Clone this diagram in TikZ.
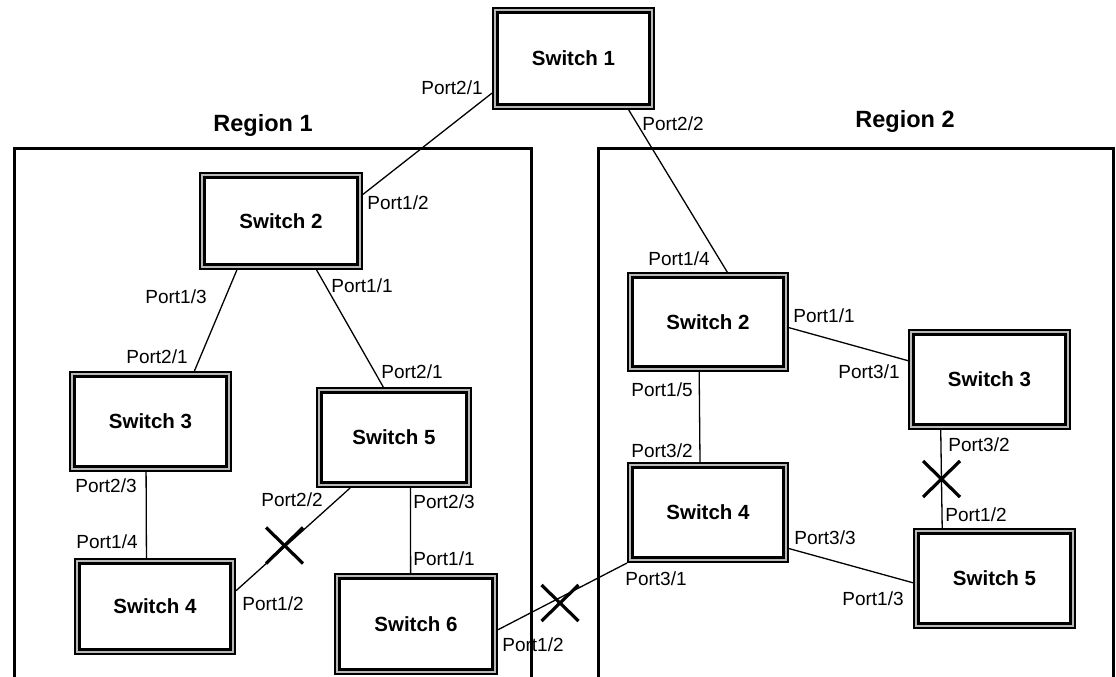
\documentclass[tikz,border=0pt]{standalone}
\usepackage{fontspec}
\setmainfont{Liberation Sans}
\usetikzlibrary{calc}
\tikzset{
  sw/.style={draw=black, line width=2.3pt, double=gray!55, double distance=2.1pt,
    fill=white, inner sep=0pt, outer sep=3.35pt,
    font=\fontsize{20.5}{23}\selectfont\bfseries},
  port/.style={inner sep=0pt, font=\fontsize{19}{21}\selectfont},
  region/.style={inner sep=0pt, font=\fontsize{23.5}{26}\selectfont\bfseries},
  link/.style={line width=1.3pt},
  frame/.style={line width=3pt},
  xmark/.style={line width=3.2pt},
}
\begin{document}
\begin{tikzpicture}[x=1pt,y=-1pt]
\useasboundingbox (0,0) rectangle (1116,677);
\clip (0,0) rectangle (1116,677);
% region frames
\draw[frame] (14,690) -- (14,148) -- (531,148) -- (531,690);
\draw[frame] (598,690) -- (598,148) -- (1113,148) -- (1113,690);
\node[region] (r1) at (263,125) {Region 1};
\node[region] (r2) at (905,121) {Region 2};
% switches
\node[sw, minimum width=156.3pt, minimum height=96.3pt] (s1) at (573.5,58.5) {Switch 1};
\node[sw, minimum width=157.3pt, minimum height=91.3pt] (a2) at (281,221) {Switch 2};
\node[sw, minimum width=156.3pt, minimum height=94.3pt] (a3) at (150.5,421.5) {Switch 3};
\node[sw, minimum width=149.3pt, minimum height=94.3pt] (a5) at (394,437.5) {Switch 5};
\node[sw, minimum width=155.3pt, minimum height=90.3pt] (a4) at (155,606.5) {Switch 4};
\node[sw, minimum width=157.3pt, minimum height=95.3pt] (a6) at (416,624) {Switch 6};
\node[sw, minimum width=155.3pt, minimum height=93.3pt] (b2) at (708,322) {Switch 2};
\node[sw, minimum width=156.3pt, minimum height=94.3pt] (b3) at (989.5,379.5) {Switch 3};
\node[sw, minimum width=155.3pt, minimum height=94.3pt] (b4) at (708,512.5) {Switch 4};
\node[sw, minimum width=156.3pt, minimum height=94.3pt] (b5) at (994.5,578.5) {Switch 5};
% links
\draw[link] (s1.203.5) -- (a2.18.9);
\draw[link] (s1.-43.9) -- (b2.69.2);
\draw[link] (a2.228.7) -- (a3.49.4);
\draw[link] (a2.-54.5) -- (a5.102.3);
\draw[link] (a3.265.4) -- (a4.100.5);
\draw[link] (a5.229.7) -- (a4.11.4);
\draw[link] (a5.-72.4) -- (a6.96.7);
\draw[link] (a6.-4.9) -- (b4.south west);
\draw[link] (b2.-4.9) -- (b3.167.9);
\draw[link] (b2.260.9) -- (b4.99);
\draw[link] (b3.226.2) -- (b5.136.7);
\draw[link] (b4.-24.8) -- (b5.183.9);
% X marks
\coordinate (x1) at (284.5,545.5);
\coordinate (x2) at (560,603);
\coordinate (x3) at (941.5,479);
\foreach \c in {x1,x2,x3}{
  \draw[xmark] ($(\c)+(-18.5,-18)$) -- ($(\c)+(18.5,18)$);
  \draw[xmark] ($(\c)+(-18.5,18)$) -- ($(\c)+(18.5,-18)$);
}
% port labels
\node[port] (l1) at (452,88) {Port2/1};
\node[port] (l2) at (673,124) {Port2/2};
\node[port] (l3) at (398,203) {Port1/2};
\node[port] (l4) at (176,297) {Port1/3};
\node[port] (l5) at (362,286) {Port1/1};
\node[port] (l6) at (157,357) {Port2/1};
\node[port] (l7) at (412,372) {Port2/1};
\node[port] (l8) at (106,486) {Port2/3};
\node[port] (l9) at (107,542) {Port1/4};
\node[port] (l10) at (292,500) {Port2/2};
\node[port] (l11) at (444,502) {Port2/3};
\node[port] (l12) at (444,559) {Port1/1};
\node[port] (l13) at (273,604) {Port1/2};
\node[port] (l14) at (533,645) {Port1/2};
\node[port] (l15) at (679,259) {Port1/4};
\node[port] (l16) at (824,316) {Port1/1};
\node[port] (l17) at (869,372) {Port3/1};
\node[port] (l18) at (662,390) {Port1/5};
\node[port] (l19) at (662,451) {Port3/2};
\node[port] (l20) at (979,445) {Port3/2};
\node[port] (l21) at (825,538) {Port3/3};
\node[port] (l22) at (976,515) {Port1/2};
\node[port] (l23) at (656,579) {Port3/1};
\node[port] (l24) at (873,599) {Port1/3};
\end{tikzpicture}
\end{document}
